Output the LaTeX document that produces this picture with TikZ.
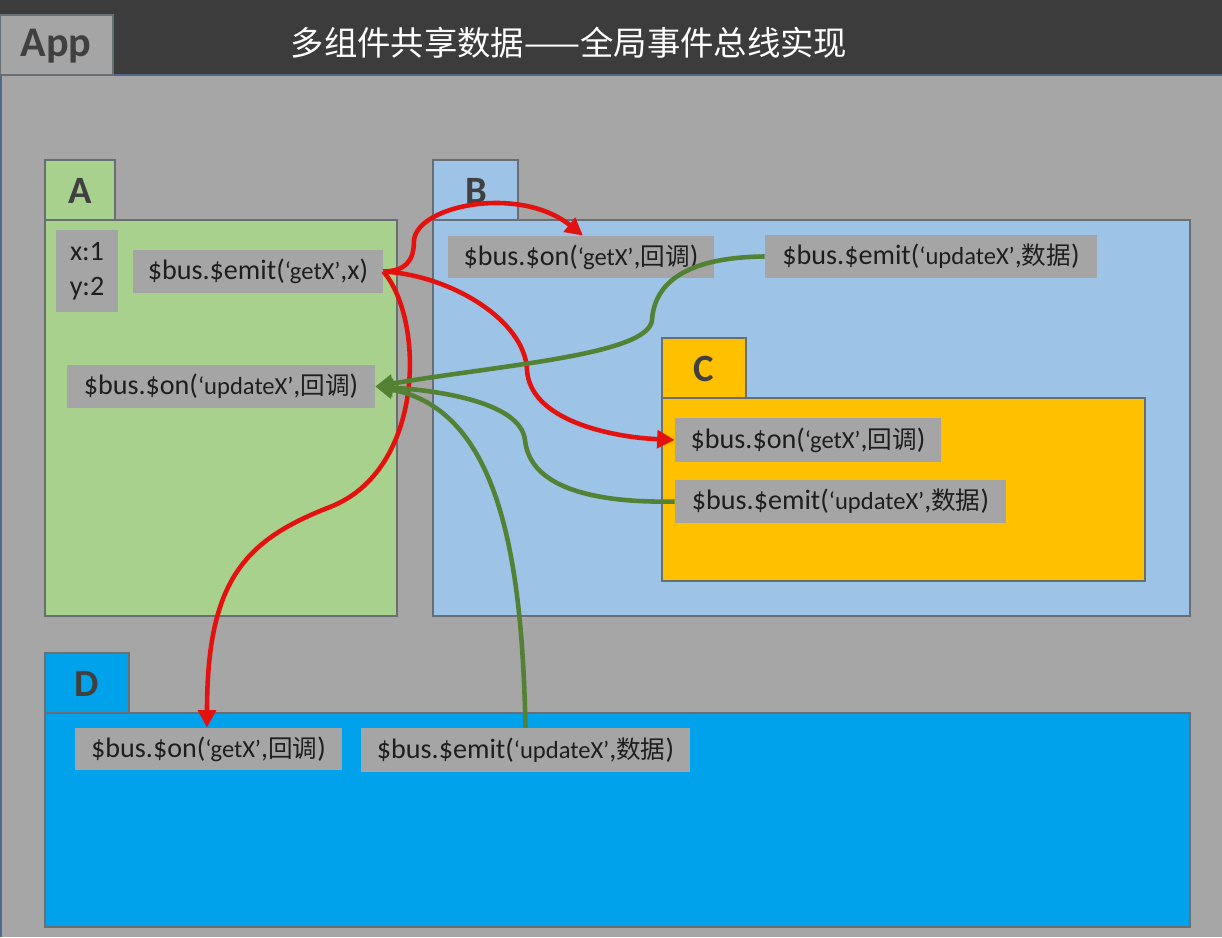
\documentclass[tikz,border=0pt]{standalone}
\usepackage{fontspec}
\setmainfont{Carlito}
\newfontfamily\cjk{Noto Sans CJK SC}
\usetikzlibrary{arrows.meta}

\definecolor{headgray}{RGB}{60,60,60}
\definecolor{bggray}{RGB}{166,166,166}
\definecolor{boxgray}{RGB}{165,165,165}
\definecolor{edgegray}{RGB}{105,110,115}
\definecolor{frameblue}{RGB}{80,105,140}
\definecolor{agreen}{RGB}{169,209,142}
\definecolor{bblue}{RGB}{157,195,230}
\definecolor{corange}{RGB}{255,192,0}
\definecolor{dblue}{RGB}{0,162,236}
\definecolor{tabink}{RGB}{64,64,64}
\definecolor{ink}{RGB}{30,30,30}
\definecolor{arrowred}{RGB}{228,18,14}
\definecolor{arrowgreen}{RGB}{84,130,53}

% quoted event name and chinese words, set a bit smaller
\newcommand{\qarg}[1]{{\fontsize{14}{14}\selectfont ‘#1’}}
\newcommand{\zh}[1]{{\fontsize{14}{14}\cjk #1}}

\begin{document}
\begin{tikzpicture}[x=0.02cm,y=-0.02cm,
  panel/.style={draw=edgegray,line width=0.8pt},
  tabtext/.style={font=\fontsize{22}{22}\selectfont\bfseries,text=tabink},
  busbox/.style={fill=boxgray,inner sep=0pt,text=ink,font=\fontsize{16}{16}\selectfont},
  getx/.style={draw=arrowred,line width=2.6pt,-{Triangle[length=10pt,width=10pt]}},
  upd/.style={draw=arrowgreen,line width=2.6pt,-{Triangle[length=10pt,width=10pt]}}]
\useasboundingbox (0,0) rectangle (1222,937);

% App frame
\fill[bggray] (0,0) rectangle (1222,937);
\fill[headgray] (0,0) rectangle (1222,75);
\draw[frameblue,line width=0.6pt] (1,937) -- (1,75) -- (1222,75);
\draw[panel,fill=boxgray] (0,15) rectangle (113,75);
\node[tabtext,font=\fontsize{24}{24}\selectfont\bfseries] (app) at (56,46) {App};
\node[text=white,font=\fontsize{19}{20}\cjk] (title) at (569,43) {多组件共享数据——全局事件总线实现};

% component A
\draw[panel,fill=agreen] (45,160) rectangle (115,220);
\draw[panel,fill=agreen] (45,220) rectangle (397,616);
\node[tabtext] (tabA) at (80,191) {A};
\node[busbox,minimum width=1.24cm,minimum height=1.64cm,align=center,
  font=\fontsize{16}{20}\selectfont] (xy) at (87,271) {x:1\\y:2};
\node[busbox,minimum width=5cm,minimum height=0.86cm] (emitA) at (258,271.5) {\$bus.\$emit(\qarg{getX},x)};
\node[busbox,minimum width=6.16cm,minimum height=0.86cm] (onA) at (221,386.5) {\$bus.\$on(\qarg{updateX},\zh{回调})};

% component B
\draw[panel,fill=bblue] (433,160) rectangle (518,220);
\draw[panel,fill=bblue] (433,220) rectangle (1190,616);
\node[tabtext] (tabB) at (476,191) {B};
\node[busbox,minimum width=5.32cm,minimum height=0.84cm] (onB) at (581,257) {\$bus.\$on(\qarg{getX},\zh{回调})};
\node[busbox,minimum width=6.64cm,minimum height=0.86cm] (emitB) at (931,256.5) {\$bus.\$emit(\qarg{updateX},\zh{数据})};

% component C
\draw[panel,fill=corange] (662,338) rectangle (746,398);
\draw[panel,fill=corange] (662,398) rectangle (1145,581);
\node[tabtext] (tabC) at (704,369) {C};
\node[busbox,minimum width=5.32cm,minimum height=0.88cm] (onC) at (808,440) {\$bus.\$on(\qarg{getX},\zh{回调})};
\node[busbox,minimum width=6.62cm,minimum height=0.86cm] (emitC) at (840.5,501.5) {\$bus.\$emit(\qarg{updateX},\zh{数据})};

% component D
\draw[panel,fill=dblue] (45,653) rectangle (129,713);
\draw[panel,fill=dblue] (45,713) rectangle (1190,927);
\node[tabtext] (tabD) at (87,684) {D};
\node[busbox,minimum width=5.34cm,minimum height=0.84cm] (onD) at (208.5,749) {\$bus.\$on(\qarg{getX},\zh{回调})};
\node[busbox,minimum width=6.58cm,minimum height=0.88cm] (emitD) at (525.5,750) {\$bus.\$emit(\qarg{updateX},\zh{数据})};

% getX events
\draw[getx] (emitA.east) .. controls (405,271) and (414,262) .. (414,240)
  .. controls (418,205) and (520,185) .. ([xshift=0.04cm]onB.north);
\draw[getx] (emitA.east) .. controls (450,275) and (525,320) .. (527,370)
  .. controls (530,420) and (610,437) .. (onC.west);
\draw[getx] (emitA.east) .. controls (425,320) and (425,470) .. (330,507)
  .. controls (245,540) and (207,580) .. ([xshift=-0.03cm]onD.north);

% updateX events
\draw[upd] (emitB.west) .. controls (700,257) and (655,275) .. (652,320)
  .. controls (649,355) and (500,365) .. (onA.east);
\draw[upd] (emitC.west) .. controls (600,503) and (530,490) .. (525,440)
  .. controls (520,400) and (430,390) .. (onA.east);
\draw[upd] (emitD.north) .. controls (522,560) and (500,410) .. (onA.east);
\end{tikzpicture}
\end{document}
